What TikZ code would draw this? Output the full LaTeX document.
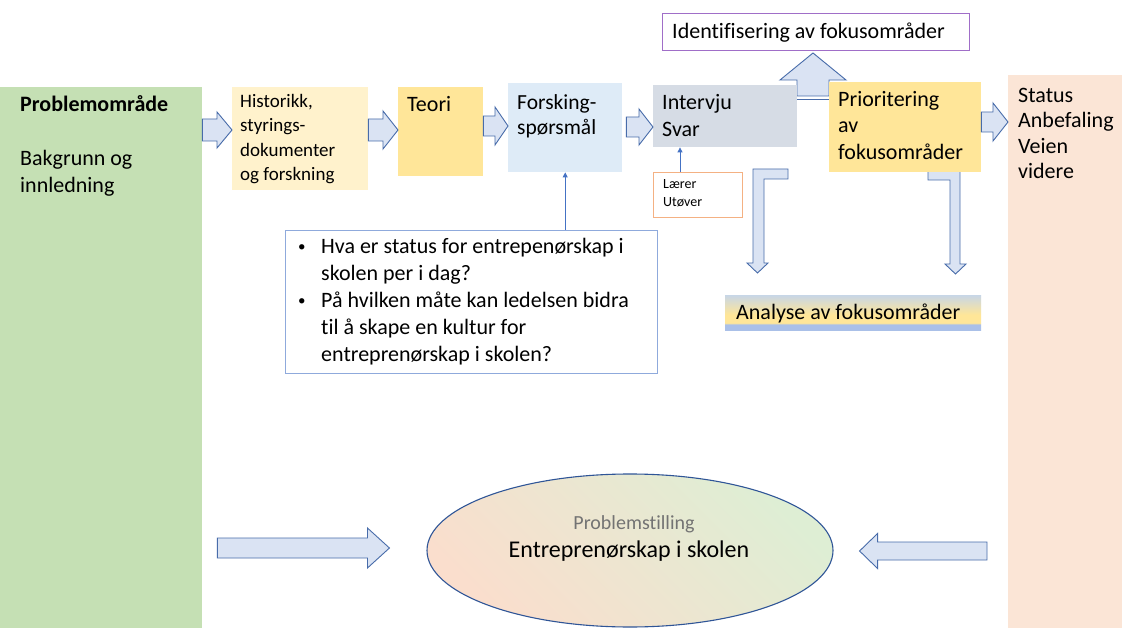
\documentclass[tikz,border=0pt]{standalone}
\usepackage{fontspec}
\setmainfont{Carlito}[Ligatures=NoCommon]
\usetikzlibrary{calc,shapes.geometric,arrows.meta}

\definecolor{greenbox}{RGB}{197,224,180}
\definecolor{histbox}{RGB}{255,242,204}
\definecolor{goldbox}{RGB}{255,230,153}
\definecolor{bluebox}{RGB}{222,235,247}
\definecolor{greybox}{RGB}{214,220,229}
\definecolor{peachbox}{RGB}{251,229,214}
\definecolor{arrowfill}{RGB}{218,227,243}
\definecolor{arrowline}{RGB}{72,108,170}
\definecolor{purpleline}{RGB}{160,110,200}
\definecolor{orangeline}{RGB}{244,177,131}
\definecolor{listline}{RGB}{143,170,220}
\definecolor{pointer}{RGB}{68,114,196}
\definecolor{ellline}{RGB}{47,85,151}
\definecolor{ellgreen}{RGB}{222,238,212}
\definecolor{ellpink}{RGB}{250,222,205}
\definecolor{bandblue}{RGB}{170,192,232}
\definecolor{softyellow}{RGB}{255,230,152}
\definecolor{topgray}{RGB}{200,214,230}

% fill of the analysis strip: grey-blue top, yellow middle, blue band at the foot
\pgfdeclareverticalshading{analyseshade}{100bp}{color(0bp)=(bandblue); color(33bp)=(bandblue); color(35.5bp)=(softyellow); color(47bp)=(softyellow); color(75bp)=(topgray); color(100bp)=(topgray)}

\newcommand\setfs[2]{\fontsize{#1}{#2}\selectfont}
\newcommand\smallbullet{\makebox[24pt][l]{\hspace*{1pt}\raisebox{1.5pt}{\setfs{15}{15}\textbullet}}}

% horizontal block arrow from the x of #1 to the x of #2 on the line y=#3;
% #4 shaft half width, #5 head half width, #6 head length (negative when pointing left)
\newcommand\hblock[6]{%
  \draw[blk] let \p1=(#1), \p2=(#2), \p3=(0,#3) in
    ({\x1},{\y3+#4pt}) -- ({\x2-(#6pt)},{\y3+#4pt}) -- ({\x2-(#6pt)},{\y3+#5pt}) -- (\x2,\y3)
    -- ({\x2-(#6pt)},{\y3-#5pt}) -- ({\x2-(#6pt)},{\y3-#4pt}) -- ({\x1},{\y3-#4pt}) -- cycle;}

\begin{document}
\begin{tikzpicture}[x=1pt,y=-1pt,
  box/.style={draw=none,inner sep=0pt,anchor=north west},
  txt/.style={anchor=north west,inner sep=0pt,align=left,font=\setfs{22}{27}},
  blk/.style={draw=arrowline,fill=arrowfill,line width=0.9pt,line join=miter},
  pointarr/.style={draw=pointer,line width=0.8pt,-{Triangle[length=5pt,width=5pt]}}]
\useasboundingbox (0,0) rectangle (1122,628);
\fill[white] (0,0) rectangle (1122,628);

% bent arrows down to the analysis strip
\draw[blk] (788,169) -- (753,169) -- (753,263) -- (747,263) -- (757.5,273) -- (768,263)
  -- (764,263) -- (764,179) -- (788,179) -- cycle;
\draw[blk] (928,170) -- (960,170) -- (960,264) -- (966,264) -- (955.5,274) -- (945,264)
  -- (950,264) -- (950,180) -- (928,180) -- cycle;

% arrow up to the identification box
\draw[blk] (797,96) -- (797,80) -- (780,80) -- (813,53) -- (846,80) -- (829,80) -- (829,96) -- cycle;
\draw[arrowline,line width=1pt] (797,100) -- (829,100);

% boxes
\node[box,fill=greenbox,minimum width=202pt,minimum height=541pt] (green) at (0,87) {};
\node[box,fill=histbox,minimum width=136pt,minimum height=103pt] (hist) at (232,87) {};
\node[box,fill=goldbox,minimum width=85pt,minimum height=89pt] (teori) at (398,87) {};
\node[box,fill=bluebox,minimum width=114pt,minimum height=89pt] (forsk) at (508,83) {};
\node[box,fill=greybox,minimum width=144pt,minimum height=62pt] (interv) at (653,85) {};
\node[box,fill=goldbox,minimum width=152pt,minimum height=90pt] (prior) at (829,82) {};
\node[box,fill=peachbox,minimum width=114pt,minimum height=553pt] (status) at (1008,75) {};
\node[box,draw=purpleline,line width=0.9pt,fill=white,minimum width=307pt,minimum height=37pt] (ident) at (662,13) {};
\node[box,draw=orangeline,line width=0.9pt,fill=white,minimum width=89pt,minimum height=45pt] (laerer) at (653,172) {};
\node[box,draw=listline,line width=0.9pt,fill=white,minimum width=372pt,minimum height=143pt] (list) at (285,230) {};
\node[box,shading=analyseshade,minimum width=256pt,minimum height=35pt] (analyse) at (725,295) {};

% texts
\node[txt] (t-green) at (20,95) {\textbf{Problemområde}\\[27pt]Bakgrunn og\\innledning};
\node[txt,font=\setfs{19}{24.5}] (t-hist) at (240,94) {Historikk,\\styrings-\\dokumenter\\og forskning};
\node[txt] (t-teori) at (407,96) {Teori};
\node[txt,font=\setfs{21.5}{25.5}] (t-forsk) at (517,94) {Forsking-\\spørsmål};
\node[txt] (t-interv) at (662,94) {Intervju\\Svar};
\node[txt,font=\setfs{22}{26.5}] (t-prior) at (838,91) {Prioritering\\av\\fokusområder};
\node[txt,font=\setfs{22}{25.5}] (t-status) at (1018,88) {Status\\Anbefaling\\Veien\\videre};
\node[txt] (t-ident) at (672,23) {Identifisering av fokusområder};
\node[txt,font=\setfs{14}{18}] (t-laerer) at (663,179) {Lærer\\Utøver};
\node[txt] (t-list) at (297,238) {%
  \smallbullet Hva er status for entrepenørskap i\\
  \hspace*{24pt}skolen per i dag?\\
  \smallbullet På hvilken måte kan ledelsen bidra\\
  \hspace*{24pt}til å skape en kultur for\\
  \hspace*{24pt}entreprenørskap i skolen?};
\node[txt] (t-analyse) at (736,304) {Analyse av fokusområder};

% connecting block arrows
\hblock{green.east}{hist.west}{130}{11}{18}{15}
\hblock{hist.east}{teori.west}{130}{11}{19}{15}
\hblock{teori.east}{forsk.west}{126}{10}{19}{13}
\hblock{[xshift=4pt]forsk.east}{interv.west}{127}{10}{18}{14}
\hblock{prior.east}{status.west}{122}{10}{19}{15}

% thin pointers
\draw[pointarr] (list.north -| forsk.south) -- (forsk.south);
\draw[pointarr] ([xshift=27pt]laerer.north west) -- ([xshift=27pt]laerer.north west |- interv.south);

% problem statement
\node[ellipse,draw=ellline,line width=1.1pt,top color=ellgreen,bottom color=ellpink,shading angle=-45,
  minimum width=406pt,minimum height=153pt,inner sep=0pt] (ell) at (630,550.5) {};
\node[inner sep=0pt,text=black!55,font=\setfs{20}{24}] (t-pstill) at ($(ell.center)+(4,-26)$) {Problemstilling};
\node[inner sep=0pt,font=\setfs{24}{28}] (t-entre) at ($(ell.center)+(-1,1)$) {Entreprenørskap i skolen};

\hblock{[xshift=15pt]green.east}{[xshift=-37pt]ell.west}{548}{10}{20}{22}
\hblock{[xshift=-21pt]status.west}{[xshift=26pt]ell.east}{551}{9}{17.5}{-18}
\end{tikzpicture}
\end{document}
